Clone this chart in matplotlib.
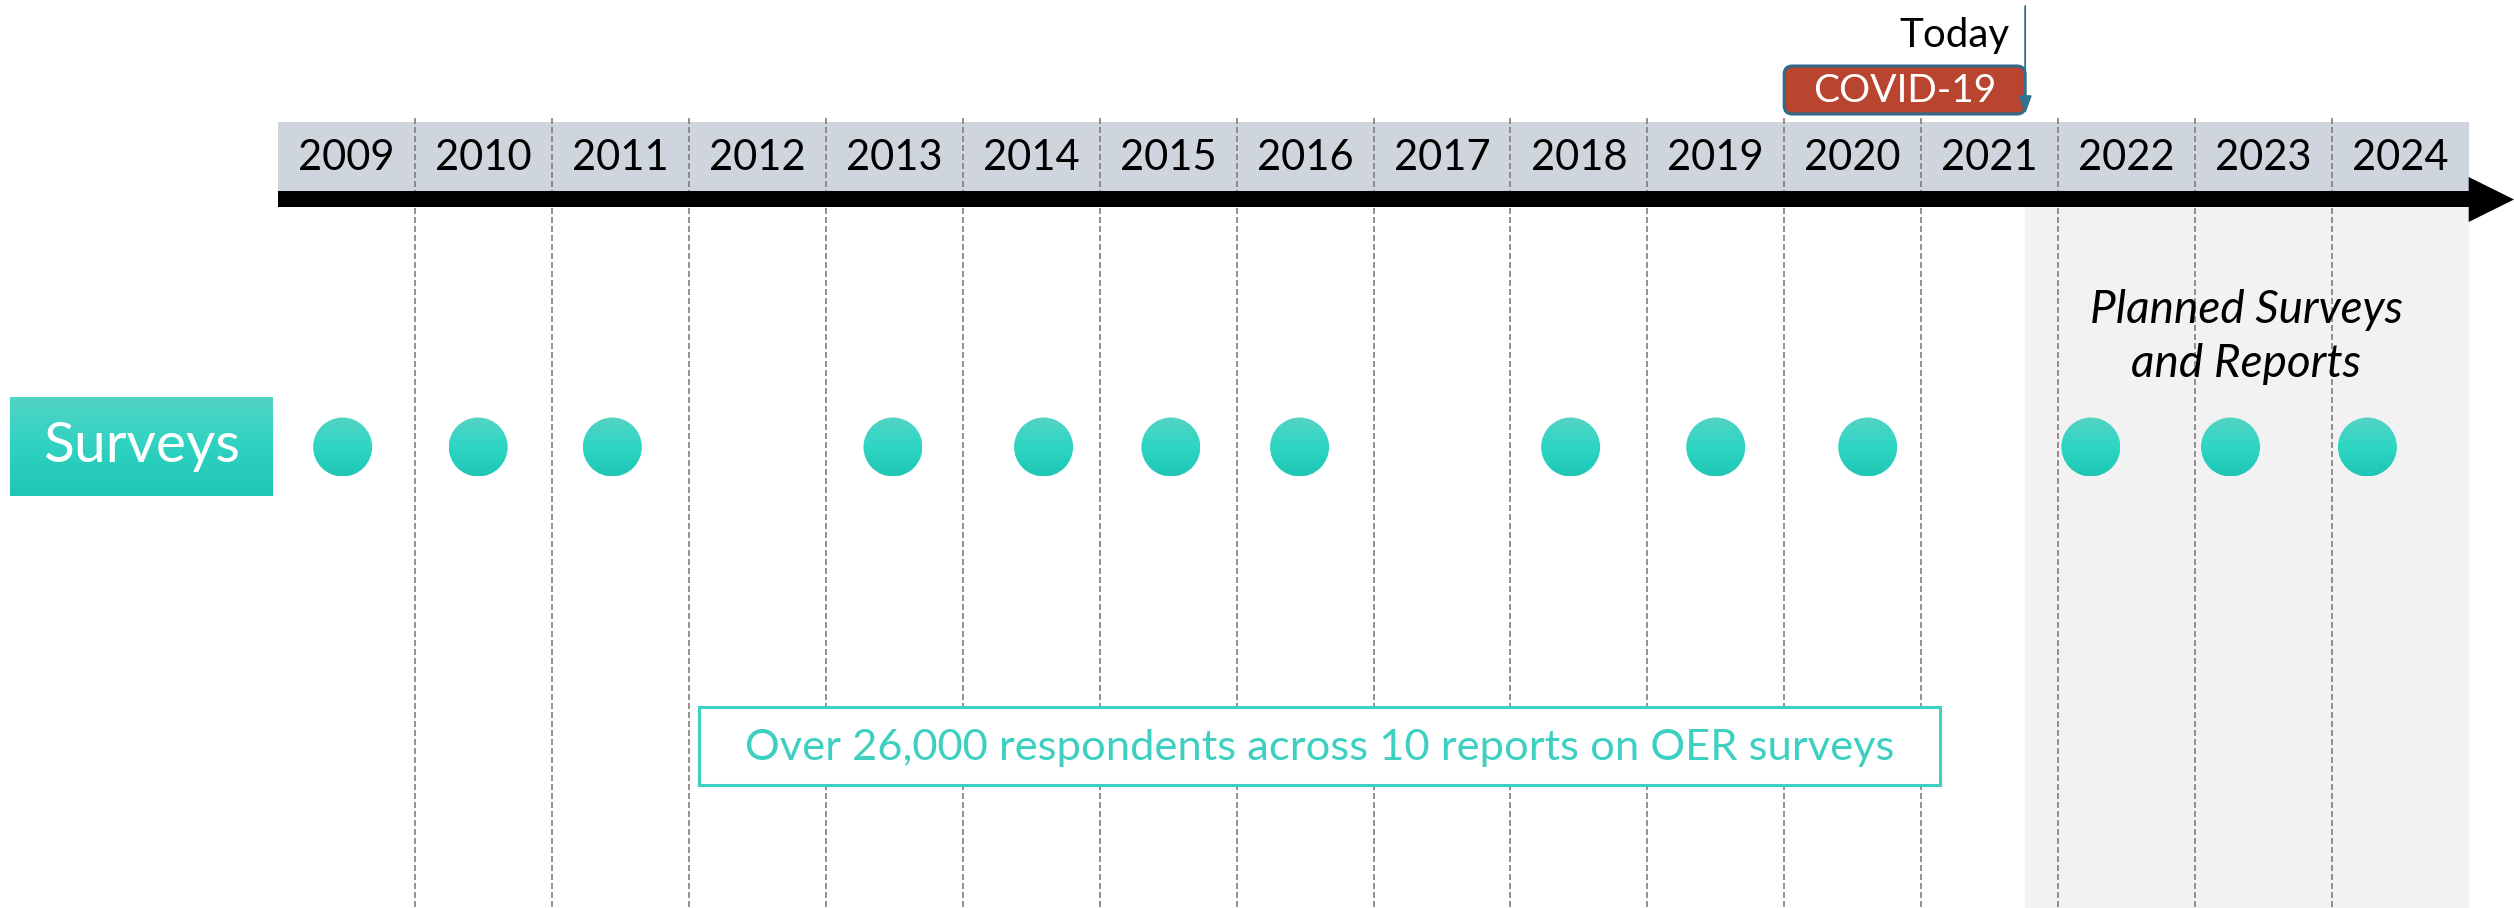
import matplotlib
matplotlib.use('Agg')
import matplotlib.pyplot as plt
import numpy as np
from matplotlib.patches import Rectangle, FancyBboxPatch, Ellipse, Polygon
from matplotlib.colors import LinearSegmentedColormap

plt.rcParams['font.family'] = ['Lato', 'DejaVu Sans']

# ---------------- data ----------------
years = list(range(2009, 2025))
survey_positions = [2009.47, 2010.46, 2011.44, 2013.49, 2014.59, 2015.52, 2016.46,
                    2018.44, 2019.50, 2020.61, 2022.24, 2023.26, 2024.26]
today = 2021.76
covid_start = 2020.0
row_label = 'Surveys'
planned_label = 'Planned Surveys\nand Reports'
summary_label = 'Over 26,000 respondents across 10 reports on OER surveys'
today_label = 'Today'
covid_label = 'COVID-19'

# ---------------- layout ----------------
W, H = 2514, 908
PX_PER_YEAR = 136.9
X0 = 278.3


def px(x):
    return years[0] + (x - X0) / PX_PER_YEAR


fig = plt.figure(figsize=(W / 100, H / 100), dpi=100)
ax = fig.add_axes([0, 0, 1, 1])
xmin, xmax = px(0), px(W)
ax.set_xlim(xmin, xmax)
ax.set_ylim(H, 0)
ax.axis('off')

TEAL = '#3dd0c0'
start, end = years[0], years[-1] + 1


def gradient_patch(patch, colors, z):
    patch.set_facecolor('none')
    patch.set_edgecolor('none')
    patch.set_zorder(z)
    ax.add_patch(patch)
    bb = patch.get_path().get_extents(patch.get_patch_transform())
    cmap = LinearSegmentedColormap.from_list('g', colors)
    grad = np.linspace(0, 1, 256).reshape(-1, 1)
    im = ax.imshow(grad, extent=(bb.x0, bb.x1, bb.y1, bb.y0), cmap=cmap,
                   aspect='auto', origin='upper', zorder=z, interpolation='bilinear')
    im.set_clip_path(patch)


# planned region
ax.add_patch(Rectangle((today, 207), end - today, H - 207, facecolor='#f2f2f2',
                       edgecolor='none', zorder=0))

# year band
ax.add_patch(Rectangle((start, 122), end - start, 69, facecolor='#cfd5dc',
                       edgecolor='none', zorder=1))
for y in years:
    ax.text(y + 0.5, 158, str(y), ha='center', va='center', fontsize=30,
            color='black', zorder=5)

# dividers
ax.vlines(years[1:], 118, H, colors='#857a7c', linestyles=(0, (3.6, 1.8)),
          linewidth=1.2, zorder=2)

# timeline arrow
ax.add_patch(Rectangle((start, 191), end - start, 16, facecolor='black',
                       edgecolor='none', zorder=3))
ax.add_patch(Polygon([(end, 177), (end, 222), (px(W), 199.5)], closed=True,
                     facecolor='black', edgecolor='none', zorder=3))

# Surveys label box
gradient_patch(Rectangle((px(10), 397), px(273) - px(10), 99),
               ['#52d4c6', '#2fd2c1', '#1fc5b4'], 4)
ax.text((px(10) + px(273)) / 2, 447, row_label, ha='center', va='center',
        fontsize=41, color='white', zorder=6)

# survey circles
r = 29.5
for xp in survey_positions:
    gradient_patch(Ellipse((xp, 447), 2 * r / PX_PER_YEAR, 2 * r),
                   ['#55d3c5', '#2ed6c4', '#1fc6b5'], 4)

# planned text
ax.text(px(2246), 337, planned_label, ha='center', va='center', fontsize=33,
        style='italic', color='black', linespacing=1.37, zorder=5)

# today marker
ax.annotate('', xy=(today, 114), xytext=(today, 6),
            arrowprops=dict(arrowstyle='-|>,head_length=1.1,head_width=0.4',
                            color='#31708f', lw=1.3, shrinkA=0, shrinkB=0),
            zorder=7)
ax.text(px(2010), 47, today_label, ha='right', va='baseline', fontsize=29,
        color='black', zorder=5)

# COVID box
ax.add_patch(FancyBboxPatch((covid_start, 66), today - covid_start, 48,
                            boxstyle='round,pad=0,rounding_size=0.06',
                            mutation_aspect=PX_PER_YEAR,
                            facecolor='#b94530', edgecolor='#2f6a8a',
                            linewidth=2.2, zorder=6))
ax.text((covid_start + today) / 2, 91, covid_label, ha='center', va='center',
        fontsize=28, color='white', zorder=8)

# summary box
ax.add_patch(Rectangle((px(699), 707), px(1940) - px(699), 78, facecolor='white',
                       edgecolor=TEAL, linewidth=2.2, zorder=4))
ax.text((px(699) + px(1940)) / 2, 748, summary_label, ha='center', va='center',
        fontsize=31.3, color=TEAL, zorder=5)

ax.set_xlim(xmin, xmax)
ax.set_ylim(H, 0)
fig.savefig('out.png', dpi=100)
